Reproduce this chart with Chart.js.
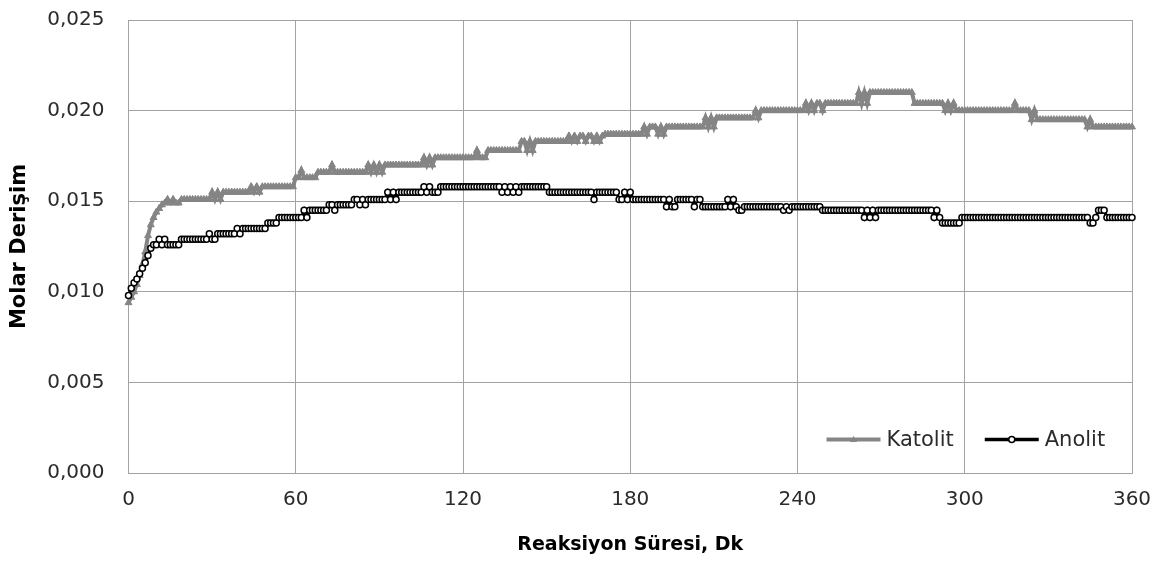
<!DOCTYPE html>
<html>
<head>
<meta charset="utf-8">
<title>Molar Derişim</title>
<script src="https://cdn.jsdelivr.net/npm/chart.js@4.4.1/dist/chart.umd.min.js"></script>
<style>
  html, body { margin: 0; padding: 0; background: #ffffff; }
  canvas { display: block; }
</style>
</head>
<body>
<canvas id="chart" width="1167" height="562"></canvas>
<script>
// Molar concentration sampled once per minute, 0..360 min
const katolit = [
  0.0094, 0.0097, 0.0100, 0.0104, 0.0109, 0.0115, 0.0122, 0.0131, 0.0137, 0.0141, 0.0144, 0.0146, 0.0148, 0.0149, 0.0151, 0.0149, 0.0151, 0.0149, 0.0149, 0.0151,
  0.0151, 0.0151, 0.0151, 0.0151, 0.0151, 0.0151, 0.0151, 0.0151, 0.0151, 0.0151, 0.0155, 0.0151, 0.0155, 0.0151, 0.0155, 0.0155, 0.0155, 0.0155, 0.0155, 0.0155,
  0.0155, 0.0155, 0.0155, 0.0155, 0.0158, 0.0155, 0.0158, 0.0155, 0.0158, 0.0158, 0.0158, 0.0158, 0.0158, 0.0158, 0.0158, 0.0158, 0.0158, 0.0158, 0.0158, 0.0158,
  0.0163, 0.0163, 0.0167, 0.0163, 0.0163, 0.0163, 0.0163, 0.0163, 0.0166, 0.0166, 0.0166, 0.0166, 0.0166, 0.0170, 0.0166, 0.0166, 0.0166, 0.0166, 0.0166, 0.0166,
  0.0166, 0.0166, 0.0166, 0.0166, 0.0166, 0.0166, 0.0170, 0.0166, 0.0170, 0.0166, 0.0170, 0.0166, 0.0170, 0.0170, 0.0170, 0.0170, 0.0170, 0.0170, 0.0170, 0.0170,
  0.0170, 0.0170, 0.0170, 0.0170, 0.0170, 0.0170, 0.0174, 0.0170, 0.0174, 0.0170, 0.0174, 0.0174, 0.0174, 0.0174, 0.0174, 0.0174, 0.0174, 0.0174, 0.0174, 0.0174,
  0.0174, 0.0174, 0.0174, 0.0174, 0.0174, 0.0178, 0.0174, 0.0174, 0.0174, 0.0178, 0.0178, 0.0178, 0.0178, 0.0178, 0.0178, 0.0178, 0.0178, 0.0178, 0.0178, 0.0178,
  0.0178, 0.0183, 0.0183, 0.0178, 0.0183, 0.0178, 0.0183, 0.0183, 0.0183, 0.0183, 0.0183, 0.0183, 0.0183, 0.0183, 0.0183, 0.0183, 0.0183, 0.0183, 0.0186, 0.0183,
  0.0186, 0.0183, 0.0186, 0.0186, 0.0183, 0.0186, 0.0186, 0.0183, 0.0186, 0.0183, 0.0186, 0.0187, 0.0187, 0.0187, 0.0187, 0.0187, 0.0187, 0.0187, 0.0187, 0.0187,
  0.0187, 0.0187, 0.0187, 0.0187, 0.0187, 0.0191, 0.0187, 0.0191, 0.0191, 0.0191, 0.0187, 0.0191, 0.0187, 0.0191, 0.0191, 0.0191, 0.0191, 0.0191, 0.0191, 0.0191,
  0.0191, 0.0191, 0.0191, 0.0191, 0.0191, 0.0191, 0.0191, 0.0196, 0.0191, 0.0196, 0.0191, 0.0196, 0.0196, 0.0196, 0.0196, 0.0196, 0.0196, 0.0196, 0.0196, 0.0196,
  0.0196, 0.0196, 0.0196, 0.0196, 0.0196, 0.0200, 0.0196, 0.0200, 0.0200, 0.0200, 0.0200, 0.0200, 0.0200, 0.0200, 0.0200, 0.0200, 0.0200, 0.0200, 0.0200, 0.0200,
  0.0200, 0.0200, 0.0200, 0.0204, 0.0200, 0.0204, 0.0200, 0.0204, 0.0204, 0.0200, 0.0204, 0.0204, 0.0204, 0.0204, 0.0204, 0.0204, 0.0204, 0.0204, 0.0204, 0.0204,
  0.0204, 0.0204, 0.0210, 0.0204, 0.0210, 0.0204, 0.0210, 0.0210, 0.0210, 0.0210, 0.0210, 0.0210, 0.0210, 0.0210, 0.0210, 0.0210, 0.0210, 0.0210, 0.0210, 0.0210,
  0.0210, 0.0210, 0.0204, 0.0204, 0.0204, 0.0204, 0.0204, 0.0204, 0.0204, 0.0204, 0.0204, 0.0204, 0.0204, 0.0200, 0.0204, 0.0200, 0.0204, 0.0200, 0.0200, 0.0200,
  0.0200, 0.0200, 0.0200, 0.0200, 0.0200, 0.0200, 0.0200, 0.0200, 0.0200, 0.0200, 0.0200, 0.0200, 0.0200, 0.0200, 0.0200, 0.0200, 0.0200, 0.0200, 0.0204, 0.0200,
  0.0200, 0.0200, 0.0200, 0.0200, 0.0195, 0.0200, 0.0195, 0.0195, 0.0195, 0.0195, 0.0195, 0.0195, 0.0195, 0.0195, 0.0195, 0.0195, 0.0195, 0.0195, 0.0195, 0.0195,
  0.0195, 0.0195, 0.0195, 0.0195, 0.0191, 0.0195, 0.0191, 0.0191, 0.0191, 0.0191, 0.0191, 0.0191, 0.0191, 0.0191, 0.0191, 0.0191, 0.0191, 0.0191, 0.0191, 0.0191,
  0.0191
];

const anolit = [
  0.0098, 0.0102, 0.0105, 0.0107, 0.0110, 0.0113, 0.0116, 0.0120, 0.0124, 0.0126, 0.0126, 0.0129, 0.0126, 0.0129, 0.0126, 0.0126, 0.0126, 0.0126, 0.0126, 0.0129,
  0.0129, 0.0129, 0.0129, 0.0129, 0.0129, 0.0129, 0.0129, 0.0129, 0.0129, 0.0132, 0.0129, 0.0129, 0.0132, 0.0132, 0.0132, 0.0132, 0.0132, 0.0132, 0.0132, 0.0135,
  0.0132, 0.0135, 0.0135, 0.0135, 0.0135, 0.0135, 0.0135, 0.0135, 0.0135, 0.0135, 0.0138, 0.0138, 0.0138, 0.0138, 0.0141, 0.0141, 0.0141, 0.0141, 0.0141, 0.0141,
  0.0141, 0.0141, 0.0141, 0.0145, 0.0141, 0.0145, 0.0145, 0.0145, 0.0145, 0.0145, 0.0145, 0.0145, 0.0148, 0.0148, 0.0145, 0.0148, 0.0148, 0.0148, 0.0148, 0.0148,
  0.0148, 0.0151, 0.0151, 0.0148, 0.0151, 0.0148, 0.0151, 0.0151, 0.0151, 0.0151, 0.0151, 0.0151, 0.0151, 0.0155, 0.0151, 0.0155, 0.0151, 0.0155, 0.0155, 0.0155,
  0.0155, 0.0155, 0.0155, 0.0155, 0.0155, 0.0155, 0.0158, 0.0155, 0.0158, 0.0155, 0.0155, 0.0155, 0.0158, 0.0158, 0.0158, 0.0158, 0.0158, 0.0158, 0.0158, 0.0158,
  0.0158, 0.0158, 0.0158, 0.0158, 0.0158, 0.0158, 0.0158, 0.0158, 0.0158, 0.0158, 0.0158, 0.0158, 0.0158, 0.0158, 0.0155, 0.0158, 0.0155, 0.0158, 0.0155, 0.0158,
  0.0155, 0.0158, 0.0158, 0.0158, 0.0158, 0.0158, 0.0158, 0.0158, 0.0158, 0.0158, 0.0158, 0.0155, 0.0155, 0.0155, 0.0155, 0.0155, 0.0155, 0.0155, 0.0155, 0.0155,
  0.0155, 0.0155, 0.0155, 0.0155, 0.0155, 0.0155, 0.0155, 0.0151, 0.0155, 0.0155, 0.0155, 0.0155, 0.0155, 0.0155, 0.0155, 0.0155, 0.0151, 0.0151, 0.0155, 0.0151,
  0.0155, 0.0151, 0.0151, 0.0151, 0.0151, 0.0151, 0.0151, 0.0151, 0.0151, 0.0151, 0.0151, 0.0151, 0.0151, 0.0147, 0.0151, 0.0147, 0.0147, 0.0151, 0.0151, 0.0151,
  0.0151, 0.0151, 0.0151, 0.0147, 0.0151, 0.0151, 0.0147, 0.0147, 0.0147, 0.0147, 0.0147, 0.0147, 0.0147, 0.0147, 0.0147, 0.0151, 0.0147, 0.0151, 0.0147, 0.0145,
  0.0145, 0.0147, 0.0147, 0.0147, 0.0147, 0.0147, 0.0147, 0.0147, 0.0147, 0.0147, 0.0147, 0.0147, 0.0147, 0.0147, 0.0147, 0.0145, 0.0147, 0.0145, 0.0147, 0.0147,
  0.0147, 0.0147, 0.0147, 0.0147, 0.0147, 0.0147, 0.0147, 0.0147, 0.0147, 0.0145, 0.0145, 0.0145, 0.0145, 0.0145, 0.0145, 0.0145, 0.0145, 0.0145, 0.0145, 0.0145,
  0.0145, 0.0145, 0.0145, 0.0145, 0.0141, 0.0145, 0.0141, 0.0145, 0.0141, 0.0145, 0.0145, 0.0145, 0.0145, 0.0145, 0.0145, 0.0145, 0.0145, 0.0145, 0.0145, 0.0145,
  0.0145, 0.0145, 0.0145, 0.0145, 0.0145, 0.0145, 0.0145, 0.0145, 0.0145, 0.0141, 0.0145, 0.0141, 0.0138, 0.0138, 0.0138, 0.0138, 0.0138, 0.0138, 0.0138, 0.0141,
  0.0141, 0.0141, 0.0141, 0.0141, 0.0141, 0.0141, 0.0141, 0.0141, 0.0141, 0.0141, 0.0141, 0.0141, 0.0141, 0.0141, 0.0141, 0.0141, 0.0141, 0.0141, 0.0141, 0.0141,
  0.0141, 0.0141, 0.0141, 0.0141, 0.0141, 0.0141, 0.0141, 0.0141, 0.0141, 0.0141, 0.0141, 0.0141, 0.0141, 0.0141, 0.0141, 0.0141, 0.0141, 0.0141, 0.0141, 0.0141,
  0.0141, 0.0141, 0.0141, 0.0141, 0.0141, 0.0138, 0.0138, 0.0141, 0.0145, 0.0145, 0.0145, 0.0141, 0.0141, 0.0141, 0.0141, 0.0141, 0.0141, 0.0141, 0.0141, 0.0141,
  0.0141
];

const seriesNames = ['Katolit', 'Anolit'];
const xTickValues = [0, 60, 120, 180, 240, 300, 360];
const yTickValues = [0, 0.005, 0.010, 0.015, 0.020, 0.025];
const xTitle = 'Reaksiyon Süresi, Dk';
const yTitle = 'Molar Derişim';

const GRAY = '#858585';
const GRID = '#a3a3a3';
const TEXT = '#2b2b2b';
const FONT = '"DejaVu Sans", "Liberation Sans", sans-serif';

// one point per minute
const toPoints = arr => arr.map((v, i) => ({ x: i, y: v }));

// legend drawn inside the plot, line + marker like the series themselves
const insideLegend = {
  id: 'insideLegend',
  afterDraw(chart) {
    const ctx = chart.ctx;
    const area = chart.chartArea;
    const y = area.bottom - 33.5;
    let x = area.left + 698;
    const styles = [
      { color: GRAY, width: 4, marker: 'triangle' },
      { color: '#000000', width: 3.5, marker: 'circle' }
    ];
    ctx.save();
    ctx.font = '21px ' + FONT;
    ctx.textBaseline = 'middle';
    seriesNames.forEach((name, i) => {
      const s = styles[i];
      ctx.strokeStyle = s.color;
      ctx.lineWidth = s.width;
      ctx.beginPath();
      ctx.moveTo(x, y);
      ctx.lineTo(x + 54, y);
      ctx.stroke();
      const mx = x + 27;
      if (s.marker === 'triangle') {
        ctx.fillStyle = s.color;
        ctx.beginPath();
        ctx.moveTo(mx, y - 3.5);
        ctx.lineTo(mx + 3.5, y + 2.5);
        ctx.lineTo(mx - 3.5, y + 2.5);
        ctx.closePath();
        ctx.fill();
      } else {
        ctx.fillStyle = '#ffffff';
        ctx.lineWidth = 1.5;
        ctx.beginPath();
        ctx.arc(mx, y, 3, 0, Math.PI * 2);
        ctx.fill();
        ctx.stroke();
      }
      ctx.fillStyle = TEXT;
      ctx.fillText(name, x + 60, y + 1);
      x += 60 + ctx.measureText(name).width + 31;
    });
    ctx.restore();
  }
};

new Chart(document.getElementById('chart'), {
  type: 'line',
  data: {
    datasets: [
      {
        label: seriesNames[0],
        data: toPoints(katolit),
        borderColor: GRAY,
        backgroundColor: GRAY,
        borderWidth: 4,
        pointStyle: 'triangle',
        pointRadius: 4,
        pointBorderWidth: 1,
        pointBackgroundColor: GRAY,
        pointBorderColor: GRAY,
        tension: 0,
        clip: false,
        order: 1
      },
      {
        label: seriesNames[1],
        data: toPoints(anolit),
        borderColor: '#000000',
        backgroundColor: '#000000',
        borderWidth: 3,
        pointStyle: 'circle',
        pointRadius: 3,
        pointBorderWidth: 1.5,
        pointBackgroundColor: '#ffffff',
        pointBorderColor: '#000000',
        tension: 0,
        clip: false,
        order: 0
      }
    ]
  },
  options: {
    responsive: false,
    animation: false,
    events: [],
    layout: { padding: { left: 3, right: 35, top: 20, bottom: 2 } },
    plugins: { legend: { display: false }, tooltip: { enabled: false } },
    scales: {
      x: {
        type: 'linear',
        min: xTickValues[0],
        max: xTickValues[xTickValues.length - 1],
        afterBuildTicks(scale) { scale.ticks = xTickValues.map(v => ({ value: v })); },
        ticks: { padding: 15, color: TEXT, font: { family: FONT, size: 20 } },
        grid: { color: GRID, lineWidth: 1, drawTicks: false },
        border: { color: GRID, width: 1 },
        title: {
          display: true, text: xTitle, color: '#000000',
          font: { family: FONT, size: 19, weight: 'bold' },
          padding: { top: 4, bottom: 4 }
        },
        afterFit(scale) { scale.height = 87; }
      },
      y: {
        min: yTickValues[0],
        max: yTickValues[yTickValues.length - 1],
        afterBuildTicks(scale) { scale.ticks = yTickValues.map(v => ({ value: v })); },
        ticks: {
          padding: 24, color: TEXT, font: { family: FONT, size: 20 },
          callback: v => v.toFixed(3).replace('.', ',')
        },
        grid: { color: GRID, lineWidth: 1, drawTicks: false },
        border: { color: GRID, width: 1 },
        title: {
          display: true, text: yTitle, color: '#000000',
          font: { family: FONT, size: 21, weight: 'bold' },
          padding: { top: 4, bottom: 4 }
        },
        afterFit(scale) {
          scale.width = 125.5;
          // the tick padding only pushes labels sideways here, not the plot top
          scale.paddingTop = 0;
          scale.paddingBottom = 0;
        }
      }
    }
  },
  plugins: [insideLegend]
});
</script>
</body>
</html>
